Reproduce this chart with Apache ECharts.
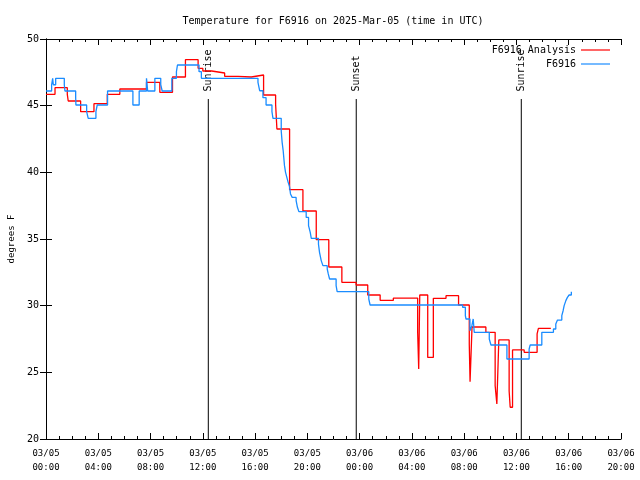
<!DOCTYPE html>
<html><head><meta charset="utf-8">
<script src="https://cdn.jsdelivr.net/npm/echarts@6/dist/echarts.min.js"></script>
<style>html,body{margin:0;padding:0;background:#fff}#c{width:640px;height:480px}</style>
</head><body><div id="c"></div>
<script>
// ---- text ----
const titleText = 'Temperature for F6916 on 2025-Mar-05 (time in UTC)';
const yAxisName = 'degrees F';
// x = hours since 2025-03-05 00:00 UTC
const xMin = 0, xMax = 44, xStep = 4;
const xTickLabels = ['03/05\n00:00','03/05\n04:00','03/05\n08:00','03/05\n12:00','03/05\n16:00','03/05\n20:00',
                     '03/06\n00:00','03/06\n04:00','03/06\n08:00','03/06\n12:00','03/06\n16:00','03/06\n20:00'];
const yMin = 20, yMax = 50, yStep = 5;

// ---- series: [hour, degF] (step values) ----
const analysisName = 'F6916 Analysis';
const analysisData = [
 [0.0,45.85],[0.69,46.35],[1.63,45.85],[1.70,45.35],[2.65,44.55],[3.67,45.15],[4.69,45.85],[5.65,46.25],
 [7.69,46.75],[8.71,46.0],[9.68,47.15],[10.67,48.45],[11.64,47.8],[12.0,47.6],[12.68,47.45],[13.67,47.2],
 [14.69,47.15],[15.71,47.3],[16.65,45.8],[17.57,45.1],[17.67,43.25],[18.64,38.7],[19.66,37.1],[20.68,34.95],
 [21.64,32.9],[22.64,31.75],[23.73,31.55],[24.62,30.8],[25.57,30.4],[26.58,30.57],[28.44,28.0],[28.52,25.25],
 [28.6,30.8],[29.21,26.12],[29.64,30.55],[30.61,30.75],[31.57,30.05],[32.39,27.1],[32.45,24.3],[32.6,28.4],
 [33.66,28.0],[34.37,24.0],[34.5,22.63],[34.65,27.43],[35.44,23.6],[35.52,22.38],[35.7,26.68],[36.59,26.5],
 [37.58,27.88],[37.68,28.3],[38.63,28.3]
];
const obsName = 'F6916';
const obsData = [
 [0.0,46.1],[0.43,46.57],[0.51,47.05],[0.56,46.57],[0.74,47.05],[1.40,46.57],[1.45,46.1],[2.27,45.6],[2.29,45.05],
 [3.11,44.55],[3.23,44.05],[3.82,44.55],[3.92,45.05],[4.71,46.1],[6.65,45.05],[7.13,46.1],[7.69,47.05],[7.78,46.1],
 [8.33,47.05],[8.78,46.57],[8.89,46.1],[9.63,47.05],[9.98,47.55],[10.06,48.05],[11.71,47.55],[11.89,47.05],
 [16.22,46.75],[16.35,46.12],[16.6,45.6],[16.84,45.05],[17.29,44.55],[17.37,44.05],[18.0,43.1],[18.07,42.25],
 [18.15,41.62],[18.25,40.5],[18.33,40.0],[18.43,39.62],[18.53,39.25],[18.63,38.95],[18.71,38.38],[18.84,38.12],
 [19.14,37.88],[19.24,37.38],[19.35,37.05],[19.91,36.62],[20.09,36.0],[20.22,35.5],[20.3,35.05],[20.85,34.62],
 [20.93,34.0],[21.06,33.38],[21.19,33.0],[21.52,32.75],[21.6,32.38],[21.7,32.0],[22.2,31.5],[22.28,31.05],
 [24.7,30.5],[24.8,30.05],[31.88,29.88],[32.09,29.25],[32.14,29.0],[32.44,28.12],[32.59,28.5],[32.69,29.0],
 [32.77,28.0],[33.92,27.5],[34.05,27.05],[35.27,26.0],[36.97,26.75],[37.05,27.05],[37.94,28.0],[38.83,28.25],
 [39.01,28.62],[39.14,28.92],[39.47,29.25],[39.57,29.62],[39.65,30.0],[39.78,30.38],[39.9,30.62],[40.03,30.8],
 [40.2,31.05]
];

// ---- sun events ----
const sunNames = ['Sunrise','Sunset','Sunrise'];
const sunHours = [12.42, 23.74, 36.37];
const sunLineTop = 45.5;

const FONT = 'DejaVu Sans Mono';
const txt = {fontFamily: FONT, fontSize: 10, color: '#000'};
const txtSmall = {fontFamily: FONT, fontSize: 9, color: '#000'};
const RED = '#ff0000', BLUE = '#1a8cff';

const chart = echarts.init(document.getElementById('c'), null, {renderer: 'canvas'});

const axisCommonX = {
  type: 'value', min: xMin, max: xMax, interval: xStep,
  axisLine: {show: true, lineStyle: {color: '#000', width: 1}},
  axisTick: {show: true, inside: true, length: 6, lineStyle: {color: '#000'}},
  minorTick: {show: true, splitNumber: 4, length: 3, lineStyle: {color: '#000'}},
  splitLine: {show: false}
};
const axisCommonY = {
  type: 'value', min: yMin, max: yMax, interval: yStep,
  axisLine: {show: true, lineStyle: {color: '#000', width: 1}},
  axisTick: {show: true, inside: true, length: 6, lineStyle: {color: '#000'}},
  splitLine: {show: false}
};

const sunSeries = sunNames.map((n, i) => ({
  type: 'line', name: 'sun' + i, silent: true, z: 1,
  symbol: 'circle', symbolSize: 1, itemStyle: {color: 'rgba(0,0,0,0)'},
  lineStyle: {color: '#000', width: 1},
  data: [[sunHours[i], yMin], {value: [sunHours[i], sunLineTop],
    label: Object.assign({show: true, formatter: n, position: 'top', distance: 7, rotate: 90,
      align: 'left', verticalAlign: 'middle'}, txt)}]
}));

const legendCommon = {right: 30, align: 'right', orient: 'vertical', padding: 0, icon: 'rect',
  itemWidth: 29, itemHeight: 1.2, selectedMode: false, textStyle: txt};

chart.setOption({
  animation: false,
  backgroundColor: '#fff',
  title: {text: titleText, left: 333, top: 16, textAlign: 'center', padding: 0,
          textStyle: Object.assign({fontWeight: 'normal'}, txt)},
  legend: [
    Object.assign({data: [analysisName], top: 45}, legendCommon),
    Object.assign({data: [obsName], top: 59}, legendCommon)
  ],
  grid: {left: 46, right: 19, top: 39, bottom: 41, containLabel: false, outerBoundsMode: 'none'},
  xAxis: [
    Object.assign({}, axisCommonX, {position: 'bottom',
      axisLabel: Object.assign({margin: 8, lineHeight: 14,
        formatter: v => xTickLabels[Math.round((v - xMin) / xStep)]}, txtSmall)}),
    Object.assign({}, axisCommonX, {position: 'top', axisLabel: {show: false}})
  ],
  yAxis: [
    Object.assign({}, axisCommonY, {position: 'left', name: yAxisName, nameLocation: 'middle',
      nameGap: 30, nameRotate: 90, nameTextStyle: txtSmall,
      axisLabel: Object.assign({margin: 7}, txt)}),
    Object.assign({}, axisCommonY, {position: 'right', axisLabel: {show: false}})
  ],
  series: [
    {type: 'line', name: analysisName, step: 'end', symbol: 'none', data: analysisData,
     lineStyle: {color: RED, width: 1.3}, itemStyle: {color: RED}, z: 3},
    {type: 'line', name: obsName, step: 'end', symbol: 'none', data: obsData,
     lineStyle: {color: BLUE, width: 1.3}, itemStyle: {color: BLUE}, z: 4}
  ].concat(sunSeries)
});
</script></body></html>
